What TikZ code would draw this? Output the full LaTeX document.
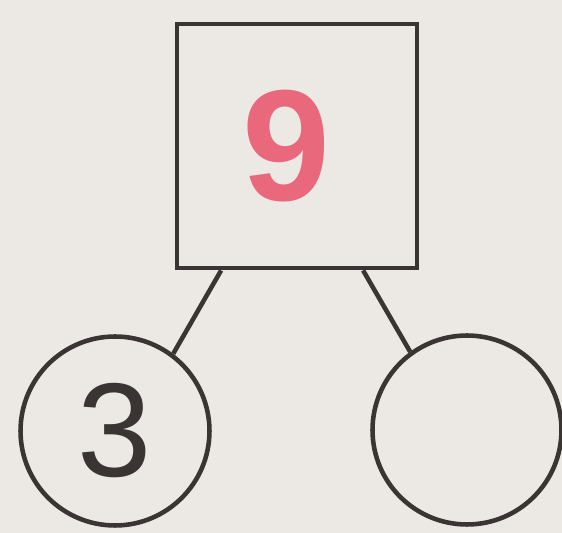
\documentclass[tikz,border=0pt]{standalone}
\usepackage{fontspec}
\setsansfont{Liberation Sans}
\usetikzlibrary{calc}

\definecolor{paper}{RGB}{236,233,228}
\definecolor{ink}{RGB}{58,53,51}
\definecolor{pinknum}{RGB}{234,104,124}

\begin{document}
\begin{tikzpicture}[
  x=0.02cm, y=-0.02cm,
  every node/.style={inner sep=0pt},
  wholebox/.style={rectangle,draw=ink,line width=2.8pt,minimum width=4.8cm,minimum height=4.88cm},
  partc/.style={circle,draw=ink,line width=2.6pt,minimum size=3.78cm},
  bignum/.style={font=\sffamily\bfseries\fontsize{90}{90}\selectfont,text=pinknum},
  smallnum/.style={font=\sffamily\fontsize{76}{76}\selectfont,text=ink},
  link/.style={draw=ink,line width=2.6pt},
]
  % background / bounding box
  \fill[paper] (0,0) rectangle (562,533);
  \useasboundingbox (0,0) rectangle (562,533);
  % ============ whole ============
  \node[wholebox,bignum] (whole) at (297,146) {\hspace*{-0.44cm}9};
  % ============ parts ============
  \node[partc,smallnum] (partL) at (115,431) {3};
  \node[partc] (partR) at (467,430) {};
  % links
  \draw[link] ($(whole.south west)!0.19!(whole.south east)$) -- (partL.53);
  \draw[link] ($(whole.south west)!0.77!(whole.south east)$) -- (partR.126);
\end{tikzpicture}
\end{document}
